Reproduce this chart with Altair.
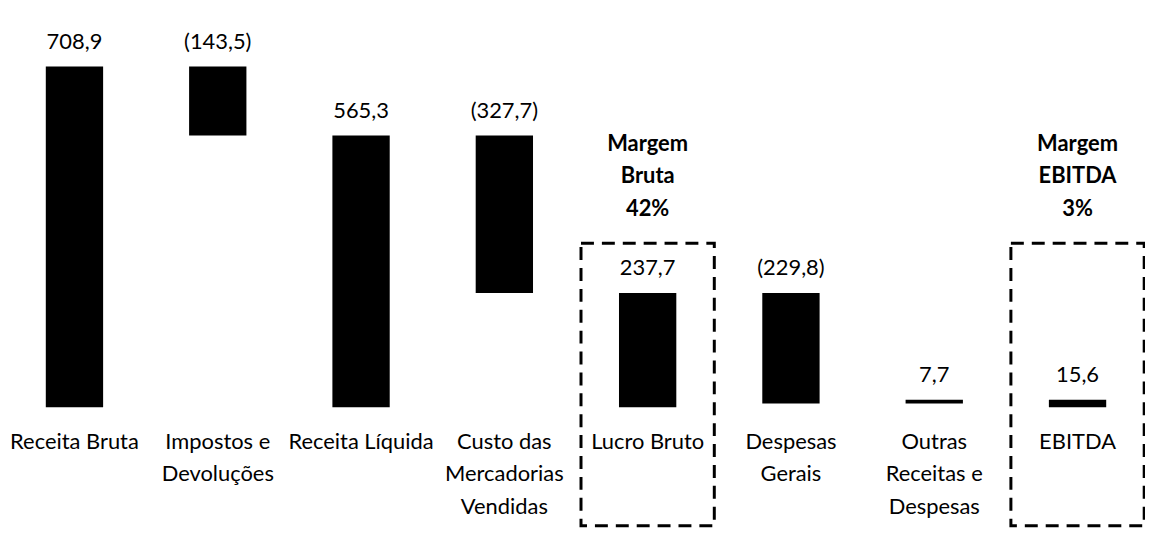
import altair as alt
import pandas as pd

# ---- data ----
categories = [
    "Receita Bruta",
    "Impostos e|Devoluções",
    "Receita Líquida",
    "Custo das|Mercadorias|Vendidas",
    "Lucro Bruto",
    "Despesas|Gerais",
    "Outras|Receitas e|Despesas",
    "EBITDA",
]
values = [708.9, -143.5, 565.3, -327.7, 237.7, -229.8, 7.7, 15.6]
is_total = [True, False, True, False, True, False, False, True]

margin_cats = ["Lucro Bruto", "EBITDA"]
margin_text = ["Margem\nBruta\n42%", "Margem\nEBITDA\n3%"]

# ---- waterfall table ----
rows = []
running = 0.0
for c, v, t in zip(categories, values, is_total):
    if t:
        start, end = 0.0, v
    else:
        start, end = running, running + v
    running = end
    lab = f"{abs(v):.1f}".replace(".", ",")
    if v < 0:
        lab = f"({lab})"
    rows.append(dict(cat=c, start=start, end=end, top=max(start, end), label=lab))
df = pd.DataFrame(rows)
mdf = pd.DataFrame({"cat": margin_cats, "text": margin_text})

FONT = "Lato"

x_enc = alt.X(
    "cat:N",
    sort=categories,
    scale=alt.Scale(paddingInner=0.6, paddingOuter=0),
    axis=alt.Axis(
        title=None,
        domain=False,
        ticks=False,
        labelAngle=0,
        labelExpr="split(datum.label, '|')",
        labelFont=FONT,
        labelFontSize=22,
        labelColor="black",
        labelLineHeight=33,
        labelPadding=24,
        labelLimit=0,
        labelOverlap=False,
    ),
)
y_scale = alt.Scale(domain=[0, 720], nice=False, zero=True)

base = alt.Chart(df)
bars = base.mark_bar(color="black").encode(
    x=x_enc,
    y=alt.Y("start:Q", scale=y_scale, axis=None),
    y2="end:Q",
)
labels = base.mark_text(baseline="bottom", dy=-13, font=FONT, fontSize=22, color="black").encode(
    x=alt.X("cat:N", sort=categories),
    y=alt.Y("top:Q", scale=y_scale, axis=None),
    text="label:N",
)

mbase = alt.Chart(mdf)
boxes = mbase.mark_bar(
    width=134, fillOpacity=0, stroke="black", strokeWidth=3, strokeDash=[13, 8]
).encode(
    x=alt.X("cat:N", sort=categories),
    y=alt.value(183),
    y2=alt.value(467),
)
annots = mbase.mark_text(
    font=FONT, fontSize=22, fontWeight="bold", lineBreak="\n", lineHeight=33,
    baseline="top", color="black",
).encode(
    x=alt.X("cat:N", sort=categories),
    y=alt.value(73),
    text="text:N",
)

chart = (
    alt.layer(bars, labels, boxes, annots)
    .properties(
        width=1066,
        height=348,
        autosize=alt.AutoSizeParams(type="none"),
        padding={"left": 38, "top": 52, "right": 39, "bottom": 122},
    )
    .configure_view(stroke=None)
)

chart.save("out.html", embed_options={"renderer": "svg", "actions": False})
